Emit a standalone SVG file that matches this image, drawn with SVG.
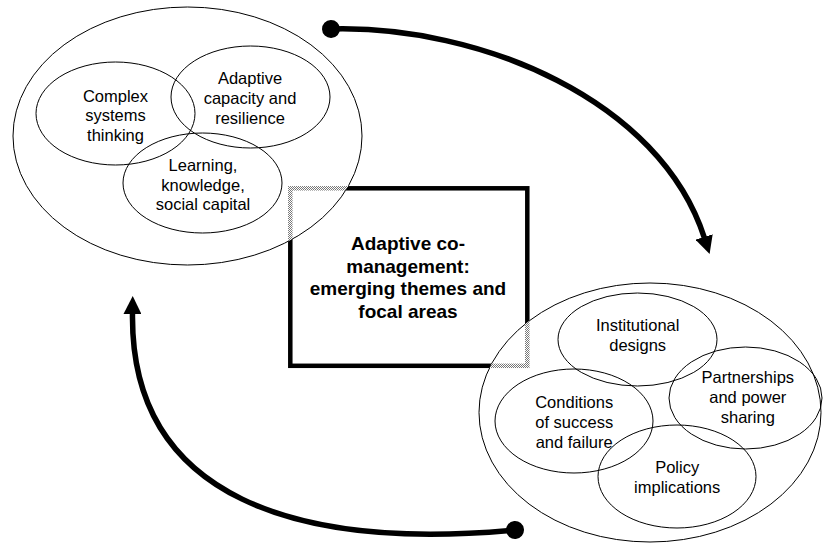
<svg xmlns="http://www.w3.org/2000/svg" width="823" height="543" viewBox="0 0 823 543">
  <style>
    .label { font-family: "Liberation Sans", Arial, sans-serif; font-size: 16.5px; fill: #000; text-anchor: middle; }
    .title { font-family: "Liberation Sans", Arial, sans-serif; font-size: 19px; font-weight: bold; fill: #000; text-anchor: middle; }
    .outer { fill: #fff; stroke: #000; stroke-width: 1; }
    .inner { fill: none; stroke: #000; stroke-width: 1; }
    .frame { fill: none; stroke: #000; stroke-width: 4.5; }
    .frame-hidden { fill: none; stroke: url(#checker); stroke-width: 4.5; }
    .flow { fill: none; stroke: #000; stroke-width: 5.5; marker-start: url(#dot); marker-end: url(#head); }
  </style>
  <defs>
    <pattern id="checker" width="2" height="2" patternUnits="userSpaceOnUse">
      <rect width="2" height="2" fill="#fff"/>
      <rect width="1" height="1" fill="#777"/>
      <rect x="1" y="1" width="1" height="1" fill="#777"/>
    </pattern>
    <clipPath id="cluster-areas">
      <ellipse cx="187.5" cy="136" rx="174.5" ry="129"/>
      <ellipse cx="650" cy="412.5" rx="171" ry="129.5"/>
    </clipPath>
    <marker id="head" markerUnits="userSpaceOnUse" viewBox="0 0 18 18" markerWidth="18" markerHeight="18" refX="1" refY="9" orient="auto">
      <path d="M0,0 L18,9 L0,18 z" fill="#000"/>
    </marker>
    <marker id="dot" markerUnits="userSpaceOnUse" viewBox="0 0 20 20" markerWidth="20" markerHeight="20" refX="10" refY="10" orient="auto">
      <circle cx="10" cy="10" r="9" fill="#000"/>
    </marker>
  </defs>

  <!-- central theme box -->
  <g id="focus-box">
    <rect class="frame" x="290.3" y="188.3" width="237" height="177.5"/>
    <text class="title" x="408" y="250">Adaptive co-</text>
    <text class="title" x="408" y="272.7">management:</text>
    <text class="title" x="408" y="295.3">emerging themes and</text>
    <text class="title" x="408" y="318">focal areas</text>
  </g>

  <!-- left cluster: concepts -->
  <g id="cluster-concepts">
    <ellipse class="outer" cx="187.5" cy="136" rx="174.5" ry="129"/>
    <g id="node-complex-systems">
      <ellipse class="inner" cx="115.5" cy="113.5" rx="79.5" ry="51.5"/>
      <text class="label" x="115.5" y="101.5">Complex</text>
      <text class="label" x="115.5" y="121">systems</text>
      <text class="label" x="115.5" y="140.5">thinking</text>
    </g>
    <g id="node-adaptive-capacity">
      <ellipse class="inner" cx="250.5" cy="97" rx="79.5" ry="51"/>
      <text class="label" x="250" y="84.3">Adaptive</text>
      <text class="label" x="250" y="104">capacity and</text>
      <text class="label" x="250" y="123.7">resilience</text>
    </g>
    <g id="node-learning">
      <ellipse class="inner" cx="202.5" cy="183" rx="79.5" ry="50"/>
      <text class="label" x="203" y="170.7">Learning,</text>
      <text class="label" x="203" y="190.5">knowledge,</text>
      <text class="label" x="203" y="210.3">social capital</text>
    </g>
  </g>

  <!-- right cluster: focal areas -->
  <g id="cluster-focal-areas">
    <ellipse class="outer" cx="650" cy="412.5" rx="171" ry="129.5"/>
    <g id="node-institutional">
      <ellipse class="inner" cx="637.5" cy="339.5" rx="79.5" ry="46.5"/>
      <text class="label" x="637.7" y="331">Institutional</text>
      <text class="label" x="637.7" y="350.5">designs</text>
    </g>
    <g id="node-partnerships">
      <ellipse class="inner" cx="745.5" cy="398" rx="76.5" ry="51"/>
      <text class="label" x="747.8" y="383.3">Partnerships</text>
      <text class="label" x="747.8" y="403">and power</text>
      <text class="label" x="747.8" y="422.7">sharing</text>
    </g>
    <g id="node-conditions">
      <ellipse class="inner" cx="574" cy="421" rx="79" ry="52"/>
      <text class="label" x="574.2" y="408.3">Conditions</text>
      <text class="label" x="574.2" y="428">of success</text>
      <text class="label" x="574.2" y="447.7">and failure</text>
    </g>
    <g id="node-policy">
      <ellipse class="inner" cx="677" cy="476.5" rx="79" ry="51.5"/>
      <text class="label" x="677.2" y="473.3">Policy</text>
      <text class="label" x="677.2" y="493">implications</text>
    </g>
  </g>

  <!-- box edges lying behind the clusters -->
  <g id="focus-box-hidden-edges" clip-path="url(#cluster-areas)">
    <rect class="frame-hidden" x="290.3" y="188.3" width="237" height="177.5"/>
  </g>

  <!-- cycle arrows -->
  <g id="connectors">
    <path class="flow" d="M331,29 C480,25 660,100 704.4,237.9"/>
    <path class="flow" d="M515,530 C300,550 130,500 132.5,313"/>
  </g>
</svg>
